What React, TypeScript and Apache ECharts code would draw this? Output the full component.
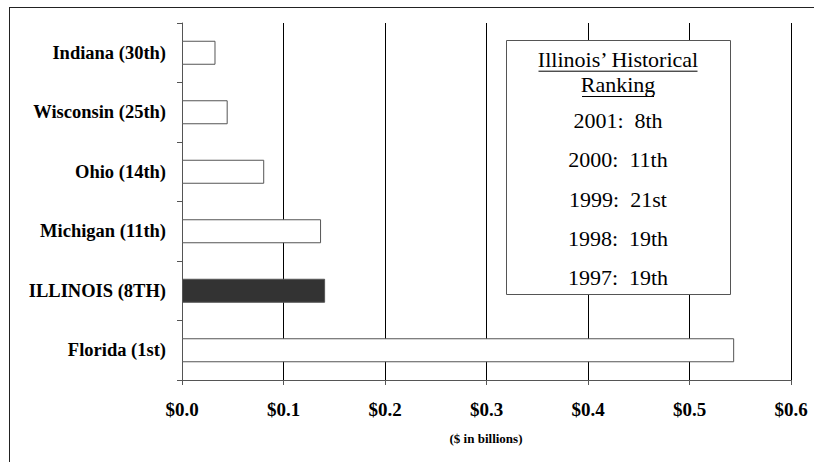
import React, { useEffect, useRef } from "react";
import * as echarts from "echarts";

const states = ["Indiana (30th)", "Wisconsin (25th)", "Ohio (14th)", "Michigan (11th)", "ILLINOIS (8TH)", "Florida (1st)"];
const values = [0.033, 0.045, 0.081, 0.137, 0.141, 0.544];
const highlight = "ILLINOIS (8TH)";
const rankingTitle = ["Illinois\u2019 Historical", "Ranking"];
const rankingYears = ["2001", "2000", "1999", "1998", "1997"];
const rankingPlaces = ["8th", "11th", "21st", "19th", "19th"];
const axisTitle = "($ in billions)";

const SERIF = "'Liberation Serif', 'Times New Roman', serif";

export default function App() {
  const ref = useRef<HTMLDivElement>(null);
  useEffect(() => {
    if (!ref.current) return;
    const chart = echarts.init(ref.current, null, { renderer: "svg" });
    const boxX = 506, boxY = 40, boxW = 224, boxH = 254;
    const cx = boxX + boxW / 2;
    const graphics: any[] = [
      { type: "line", shape: { x1: 9.5, y1: 7.5, x2: 9.5, y2: 462 }, style: { stroke: "#222", lineWidth: 1 }, z: 1 },
      { type: "line", shape: { x1: 9, y1: 7.5, x2: 814, y2: 7.5 }, style: { stroke: "#222", lineWidth: 1 }, z: 1 },
      { type: "rect", shape: { x: boxX + 0.5, y: boxY + 0.5, width: boxW, height: boxH }, style: { fill: "#fff", stroke: "#555", lineWidth: 1 }, z: 10 },
      {
        type: "text", x: 486, y: 438, z: 11,
        style: { text: axisTitle, font: `bold 13px ${SERIF}`, fill: "#000", align: "center", verticalAlign: "middle" },
      },
    ];
    const titleMid = [59.3, 84.3];
    const underlineY = [70.7, 96];
    const titleWidths = [159, 72];
    rankingTitle.forEach((t, i) => {
      graphics.push({
        type: "text", x: cx, y: titleMid[i], z: 11,
        style: { text: t, font: `22px ${SERIF}`, fill: "#000", align: "center", verticalAlign: "middle" },
      });
      graphics.push({
        type: "line", z: 11,
        shape: { x1: cx - titleWidths[i] / 2, y1: underlineY[i] + 0.5, x2: cx + titleWidths[i] / 2, y2: underlineY[i] + 0.5 },
        style: { stroke: "#000", lineWidth: 1 },
      });
    });
    rankingYears.forEach((y, i) => {
      graphics.push({
        type: "text", x: cx, y: 120.6 + i * 39.25, z: 11,
        style: { text: `${y}:\u00a0 ${rankingPlaces[i]}`, font: `22px ${SERIF}`, fill: "#000", align: "center", verticalAlign: "middle" },
      });
    });

    chart.setOption({
      animation: false,
      backgroundColor: "#fff",
      grid: { left: 182, top: 23, width: 609, height: 357, containLabel: false },
      xAxis: {
        type: "value",
        min: 0,
        max: 0.6,
        interval: 0.1,
        axisLine: { show: true, lineStyle: { color: "#555", width: 1 } },
        axisTick: { show: true, inside: false, length: 5, lineStyle: { color: "#555" } },
        splitLine: { show: true, lineStyle: { color: "#000", width: 1 } },
        axisLabel: {
          margin: 20,
          fontFamily: SERIF,
          fontWeight: "bold",
          fontSize: 19,
          color: "#000",
          formatter: (v: number) => "$" + v.toFixed(1),
        },
      },
      yAxis: {
        type: "category",
        data: states,
        inverse: true,
        boundaryGap: true,
        axisLine: { show: true, lineStyle: { color: "#555", width: 1 } },
        axisTick: { show: true, inside: false, length: 5, alignWithLabel: false, lineStyle: { color: "#555" } },
        splitLine: { show: false },
        axisLabel: {
          margin: 16,
          fontFamily: SERIF,
          fontWeight: "bold",
          fontSize: 18.5,
          color: "#000",
        },
      },
      series: [
        {
          type: "bar",
          barWidth: 24,
          z: 5,
          data: values.map((v, i) => ({
            value: v,
            itemStyle: {
              color: states[i] === highlight ? "#333333" : "#ffffff",
              borderColor: "#555",
              borderWidth: 1,
            },
          })),
        },
      ],
      graphic: graphics,
    });
    return () => chart.dispose();
  }, []);
  return (
    <div
      ref={ref}
      style={{ position: "absolute", left: 0, top: 0, width: 814, height: 462 }}
    />
  );
}
